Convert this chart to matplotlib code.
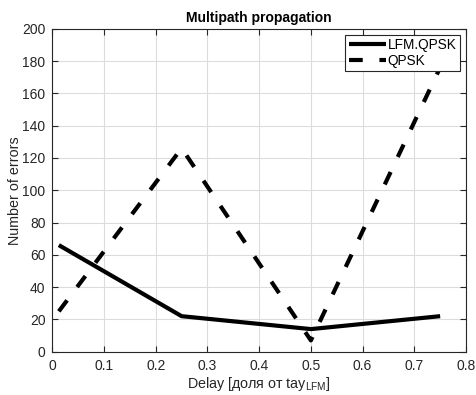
import matplotlib
matplotlib.use("Agg")
import matplotlib.pyplot as plt

# Delay values (fraction of tau_LFM) and error counts
delay = [0.0125, 0.25, 0.5, 0.75]
lfm_qpsk = [66, 22, 14, 22]
qpsk = [25, 126, 7, 176]

x_ticks = [0, 0.1, 0.2, 0.3, 0.4, 0.5, 0.6, 0.7, 0.8]
x_tick_labels = ["0", "0.1", "0.2", "0.3", "0.4", "0.5", "0.6", "0.7", "0.8"]
y_ticks = list(range(0, 201, 20))

plt.rcParams["font.family"] = ["Liberation Sans", "DejaVu Sans"]
plt.rcParams["mathtext.fontset"] = "custom"
plt.rcParams["mathtext.rm"] = "Liberation Sans"
plt.rcParams["mathtext.it"] = "Liberation Sans"

dark = "#262626"

fig = plt.figure(figsize=(4.76, 3.95), dpi=100)
ax = fig.add_axes([0.110, 0.1096, 0.869, 0.8177])

ax.plot(delay, lfm_qpsk, color="black", lw=3, solid_capstyle="butt",
        label="LFM.QPSK")
ax.plot(delay, qpsk, color="black", lw=3, linestyle=(0, (3.3, 4.0)),
        dash_capstyle="butt", label="QPSK")

ax.set_xlim(0, 0.8)
ax.set_ylim(0, 200)
ax.set_xticks(x_ticks)
ax.set_xticklabels(x_tick_labels)
ax.set_yticks(y_ticks)

ax.grid(True, color="#dcdcdc", lw=0.8)
ax.set_axisbelow(True)
ax.tick_params(direction="in", top=True, right=True, length=4,
               labelsize=10, colors=dark, width=0.8, pad=5)
for sp in ax.spines.values():
    sp.set_color(dark)
    sp.set_linewidth(0.8)

ax.set_title("Multipath propagation", fontsize=10, fontweight="bold",
             color="black", pad=5)
ax.set_xlabel(r"Delay [доля от tay$_{\mathrm{LFM}}$]", fontsize=10.3,
              color=dark, labelpad=2)
ax.set_ylabel("Number of errors", fontsize=10.3, color=dark, labelpad=0)

leg = ax.legend(loc="upper right", fontsize=9.8, frameon=True, fancybox=False,
                handlelength=2.7, handletextpad=0.15, borderpad=0.25,
                labelspacing=0.1, borderaxespad=0.45)
leg.get_frame().set_edgecolor(dark)
leg.get_frame().set_linewidth(0.8)
leg.get_frame().set_alpha(1)

fig.savefig("out.png", dpi=100)
